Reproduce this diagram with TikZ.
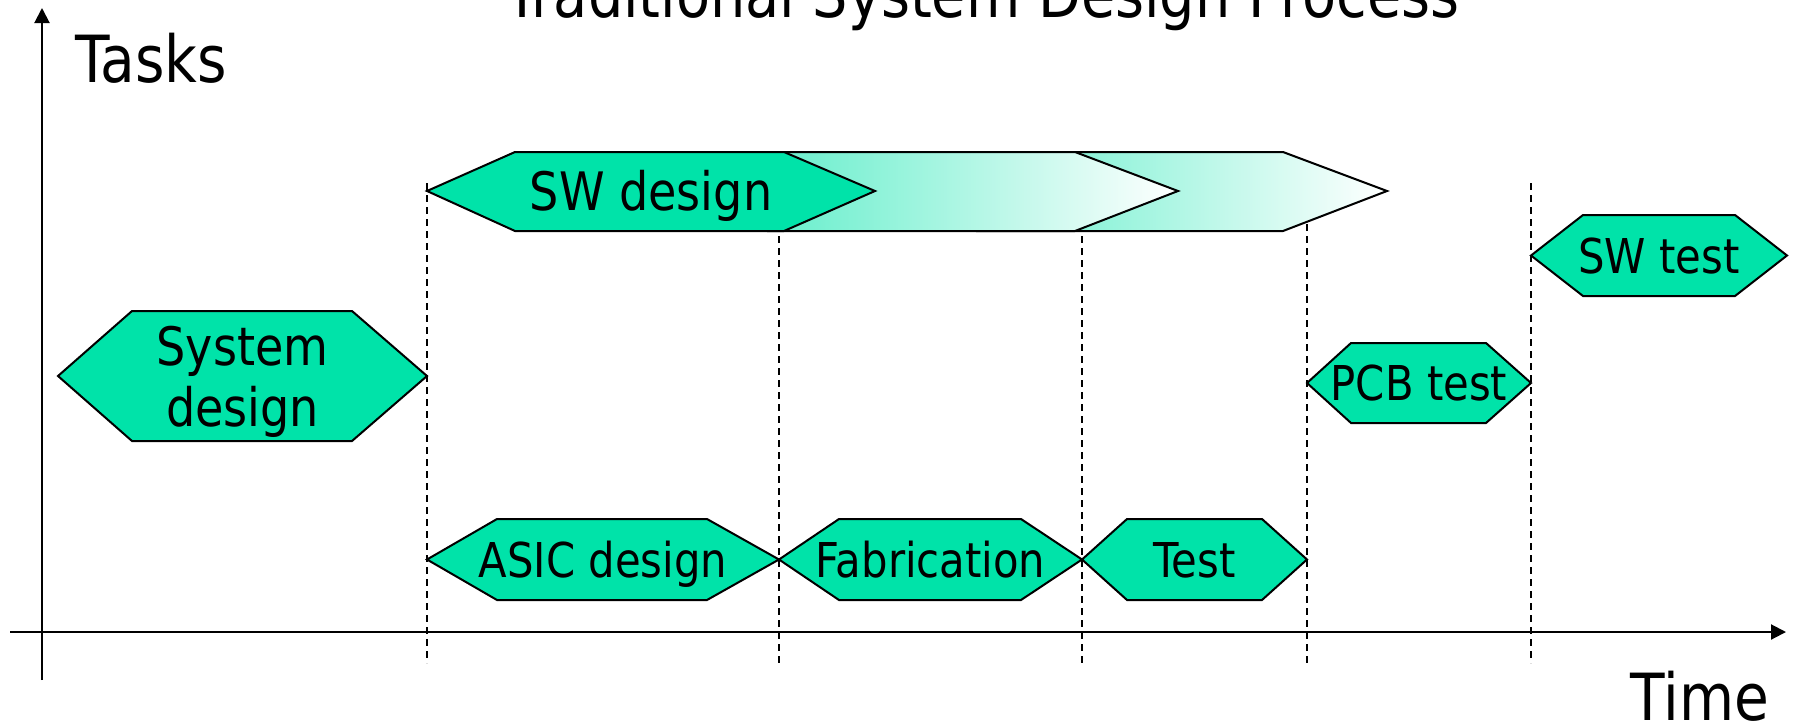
\documentclass[tikz,border=0pt]{standalone}
\usepackage{fontspec}
\setmainfont{DejaVu Sans}[FakeStretch=0.87]
\usetikzlibrary{arrows.meta}
\definecolor{taskgreen}{HTML}{00E3A9}
\tikzset{
  hexbox/.style={draw=black, line width=2pt, fill=taskgreen, line join=miter},
  fadebox/.style={draw=black, line width=2pt, line join=miter, left color=taskgreen!60!white, right color=white},
  guide/.style={draw=black, line width=2pt, dash pattern=on 7pt off 5pt},
  axis/.style={draw=black, line width=2pt, -{Triangle[length=15pt,width=15pt]}},
  lab/.style={inner sep=0pt, text height=35pt, text depth=0pt, font=\fontsize{48}{58}\selectfont},
  labbig/.style={inner sep=0pt, text height=38.5pt, text depth=0pt, font=\fontsize{53}{61}\selectfont},
  axlab/.style={inner sep=0pt, font=\fontsize{65}{78}\selectfont},
}
\begin{document}
\begin{tikzpicture}[x=1pt,y=-1pt]
\useasboundingbox (0,0) rectangle (1795,723);

% guide coordinates
\coordinate (g1t) at (427,183);  \coordinate (g1b) at (427,663);
\coordinate (g2t) at (779,200);  \coordinate (g2b) at (779,663);
\coordinate (g3t) at (1082,200); \coordinate (g3b) at (1082,663);
\coordinate (g4t) at (1307,200); \coordinate (g4b) at (1307,663);
\coordinate (g5t) at (1531,183); \coordinate (g5b) at (1531,663);
\foreach \i in {1,...,5} \draw[guide] (g\i t) -- (g\i b);

% axes
\coordinate (yb) at (42,680); \coordinate (yt) at (42,8);
\coordinate (xl) at (10,632); \coordinate (xr) at (1786,632);
\draw[axis] (yb) -- (yt);
\draw[axis] (xl) -- (xr);

% faded continuation of SW design
\path[fadebox] (977,152) -- (1283,152) -- (1387,191) -- (1283,231) -- (977,231) -- cycle;
\path[fadebox] (768,152) -- (1075,152) -- (1178,191) -- (1075,231) -- (768,231) -- cycle;

% task boxes
\path[hexbox] (427,191) -- (515,152) -- (784,152) -- (875,191) -- (784,231) -- (515,231) -- cycle;
\path[hexbox] (58,376) -- (132,311) -- (352,311) -- (427,376) -- (352,441) -- (132,441) -- cycle;
\path[hexbox] (427,559.5) -- (497,519) -- (707,519) -- (779,559.5) -- (707,600) -- (497,600) -- cycle;
\path[hexbox] (779,559.5) -- (839,519) -- (1021,519) -- (1082,559.5) -- (1021,600) -- (839,600) -- cycle;
\path[hexbox] (1082,559.5) -- (1127,519) -- (1262,519) -- (1307,559.5) -- (1262,600) -- (1127,600) -- cycle;
\path[hexbox] (1307,383) -- (1351,343) -- (1486,343) -- (1531,383) -- (1486,423) -- (1351,423) -- cycle;
\path[hexbox] (1531,255.5) -- (1583,215) -- (1735,215) -- (1787,255.5) -- (1735,296) -- (1583,296) -- cycle;

% labels
\node[labbig] (swd) at (651,191.5) {SW design};
\node[labbig, align=center, anchor=north] (sysd) at (242.5,387.5) {System\\design};
\node[lab] (asic) at (603,559.5) {ASIC design};
\node[lab] (fab) at (930.5,559.5) {Fabrication};
\node[lab] (tst) at (1194.5,559.5) {Test};
\node[lab] (pcb) at (1419,383) {PCB test};
\node[lab] (swt) at (1659,255.5) {SW test};

\node[axlab, anchor=base west] (tasks) at (75,82) {Tasks};
\node[axlab, anchor=base east] (time) at (1769,720) {Time};
\node[inner sep=0pt, font=\fontsize{64}{77}\selectfont, anchor=base west] (title) at (505,17) {Traditional System Design Process};
\end{tikzpicture}
\end{document}
